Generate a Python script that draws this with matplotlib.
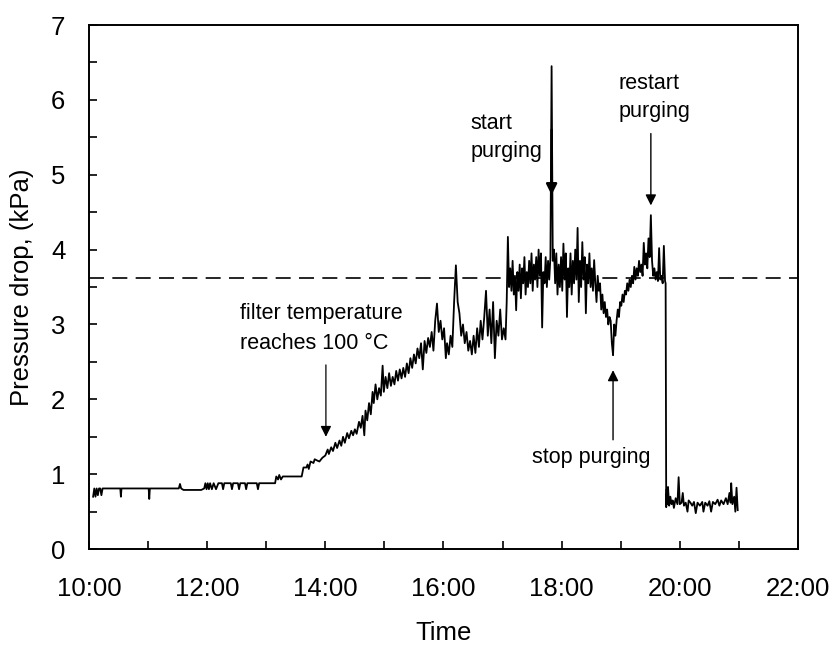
import matplotlib
matplotlib.use("Agg")
import matplotlib.pyplot as plt
from matplotlib.ticker import MultipleLocator, FuncFormatter

plt.rcParams['font.family'] = ['Liberation Sans', 'DejaVu Sans']

# ---- data (time in hours, pressure drop in kPa) ----
t_flat = [10.07, 10.09, 10.11, 10.13, 10.15, 10.17, 10.19, 10.21, 10.23, 10.53, 10.54, 10.55,
          11.01, 11.02, 11.03, 11.52, 11.54, 11.56, 11.60, 11.90, 11.95, 11.97, 11.99, 12.01,
          12.03, 12.05, 12.08, 12.11, 12.15, 12.19, 12.25, 12.27, 12.29, 12.40, 12.42, 12.44,
          12.52, 12.54, 12.56, 12.64, 12.66, 12.68, 12.84, 12.86, 12.88, 13.15, 13.17, 13.20,
          13.22, 13.25, 13.28, 13.60, 13.63, 13.68, 13.70, 13.72, 13.75, 13.80, 13.82, 13.87,
          13.90, 13.95]
p_flat = [0.70, 0.81, 0.70, 0.81, 0.72, 0.81, 0.81, 0.72, 0.81, 0.81, 0.70, 0.81,
          0.81, 0.67, 0.81, 0.81, 0.87, 0.81, 0.79, 0.79, 0.81, 0.88, 0.80, 0.88,
          0.80, 0.88, 0.80, 0.88, 0.80, 0.88, 0.88, 0.80, 0.88, 0.88, 0.80, 0.88,
          0.88, 0.80, 0.88, 0.88, 0.80, 0.88, 0.88, 0.80, 0.88, 0.88, 0.97, 0.93,
          0.99, 0.93, 0.97, 0.97, 1.09, 1.09, 1.13, 1.07, 1.17, 1.15, 1.20, 1.18,
          1.17, 1.22]

t_rise = [14.00, 14.04, 14.06, 14.10, 14.13, 14.17, 14.20, 14.24, 14.27, 14.30, 14.33, 14.37,
          14.40, 14.44, 14.47, 14.50, 14.53, 14.57, 14.60, 14.63, 14.66, 14.68, 14.71, 14.74,
          14.77, 14.80, 14.82, 14.85, 14.88, 14.91, 14.94, 14.97, 14.99, 15.02, 15.05, 15.08,
          15.11, 15.14, 15.17, 15.20, 15.23, 15.26, 15.29, 15.32, 15.35, 15.38, 15.41, 15.44,
          15.47, 15.50, 15.53, 15.56, 15.59, 15.62, 15.65, 15.68, 15.71, 15.74, 15.77, 15.80,
          15.83, 15.86, 15.89, 15.92, 15.95, 15.98, 16.01, 16.04, 16.06, 16.09, 16.12, 16.15,
          16.18, 16.21, 16.24, 16.27, 16.30, 16.33, 16.36, 16.39, 16.42, 16.45, 16.48, 16.51,
          16.54, 16.57, 16.60, 16.63, 16.66, 16.69, 16.72, 16.75, 16.78, 16.81, 16.84, 16.87,
          16.90, 16.93, 16.96, 16.99, 17.02, 17.05, 17.07, 17.09]
p_rise = [1.25, 1.33, 1.27, 1.36, 1.31, 1.42, 1.35, 1.45, 1.38, 1.50, 1.42, 1.55,
          1.48, 1.58, 1.52, 1.60, 1.54, 1.70, 1.62, 1.78, 1.52, 1.85, 1.72, 1.95,
          1.80, 2.10, 1.95, 2.20, 2.00, 2.15, 2.05, 2.45, 2.10, 2.30, 2.15, 2.35,
          2.18, 2.30, 2.20, 2.38, 2.25, 2.40, 2.28, 2.42, 2.30, 2.48, 2.35, 2.55,
          2.42, 2.60, 2.48, 2.68, 2.55, 2.75, 2.40, 2.78, 2.62, 2.82, 2.70, 2.90,
          2.65, 3.05, 3.28, 2.90, 3.05, 2.80, 2.95, 2.55, 2.75, 2.60, 2.85, 2.70,
          3.30, 3.79, 3.30, 3.15, 2.85, 3.00, 2.75, 2.90, 2.65, 2.78, 2.60, 2.85,
          2.62, 2.95, 2.70, 3.05, 2.80, 3.10, 3.45, 2.85, 3.20, 2.75, 3.30, 2.55,
          3.05, 2.85, 3.20, 2.80, 2.95, 2.80, 3.30, 4.17]

t_purge = [17.11, 17.13, 17.15, 17.17, 17.19, 17.21, 17.23, 17.25, 17.27, 17.29, 17.31, 17.33,
           17.35, 17.37, 17.39, 17.41, 17.43, 17.45, 17.47, 17.49, 17.51, 17.53, 17.55, 17.57,
           17.59, 17.61, 17.63, 17.65, 17.67, 17.69, 17.71, 17.73, 17.75, 17.77, 17.79, 17.81,
           17.83, 17.85, 17.87, 17.89, 17.91, 17.93, 17.95, 17.97, 17.99, 18.01, 18.03, 18.05,
           18.07, 18.09, 18.11, 18.13, 18.15, 18.17, 18.19, 18.21, 18.23, 18.25, 18.27, 18.29,
           18.31, 18.33, 18.35, 18.37, 18.39, 18.41, 18.43, 18.45, 18.47, 18.49, 18.51, 18.53,
           18.55, 18.57, 18.59, 18.61, 18.63, 18.65, 18.67, 18.69, 18.71, 18.73, 18.75, 18.77,
           18.79, 18.81, 18.83, 18.85, 18.87, 18.89, 18.91, 18.93, 18.95, 18.97, 18.99, 19.01,
           19.03, 19.05, 19.07, 19.09, 19.11, 19.13, 19.15, 19.17, 19.19, 19.21, 19.23, 19.25,
           19.27, 19.29, 19.31, 19.33, 19.35, 19.37, 19.39, 19.41, 19.43, 19.45, 19.47, 19.49,
           19.51, 19.53, 19.55, 19.57, 19.59, 19.61, 19.63, 19.65, 19.67, 19.69, 19.71, 19.73,
           19.75, 19.76]
p_purge = [3.50, 3.75, 3.45, 3.85, 3.40, 3.65, 3.19, 3.70, 3.45, 3.80, 3.35, 3.75,
           3.55, 3.90, 3.40, 3.70, 3.50, 3.85, 3.55, 3.95, 3.45, 3.80, 3.60, 3.90,
           3.50, 4.00, 3.65, 3.95, 2.96, 3.70, 3.55, 3.90, 3.50, 3.85, 3.60, 3.90,
           6.45, 3.85, 4.00, 3.55, 3.95, 3.40, 3.80, 3.50, 3.90, 3.45, 4.08, 3.60,
           3.95, 3.10, 3.75, 3.50, 3.95, 3.40, 3.85, 3.55, 4.00, 3.60, 4.29, 3.30,
           3.85, 3.50, 4.10, 3.60, 3.90, 3.15, 3.80, 3.55, 3.95, 3.50, 3.75, 3.45,
           3.86, 3.55, 3.30, 3.65, 3.45, 3.55, 3.20, 3.40, 3.15, 3.30, 3.10, 3.20,
           3.00, 3.10, 3.05, 2.75, 2.59, 3.00, 2.85, 3.05, 3.20, 3.10, 3.30, 3.25,
           3.40, 3.30, 3.45, 3.40, 3.55, 3.45, 3.60, 3.50, 3.65, 3.55, 3.77, 3.60,
           3.75, 3.65, 3.85, 3.70, 3.80, 3.65, 4.09, 3.80, 3.95, 3.75, 4.15, 3.90,
           4.46, 3.85, 3.65, 3.75, 3.60, 3.70, 3.58, 4.02, 3.60, 3.65, 3.55, 4.05,
           3.58, 3.55]

t_after = [19.77, 19.78, 19.79, 19.80, 19.82, 19.84, 19.86, 19.88, 19.90, 19.93, 19.96, 19.98,
           20.00, 20.03, 20.05, 20.07, 20.10, 20.13, 20.15, 20.18, 20.21, 20.24, 20.27, 20.30,
           20.34, 20.38, 20.40, 20.43, 20.47, 20.50, 20.53, 20.56, 20.60, 20.64, 20.67, 20.70,
           20.74, 20.78, 20.81, 20.84, 20.86, 20.87, 20.89, 20.92, 20.94, 20.96, 20.98]
p_after = [0.56, 0.80, 0.60, 0.83, 0.58, 0.70, 0.60, 0.65, 0.55, 0.68, 0.60, 0.96,
           0.60, 0.62, 0.75, 0.58, 0.62, 0.50, 0.65, 0.62, 0.58, 0.63, 0.48, 0.62,
           0.58, 0.63, 0.50, 0.62, 0.58, 0.64, 0.50, 0.63, 0.60, 0.66, 0.58, 0.65,
           0.60, 0.68, 0.60, 0.75, 0.62, 0.88, 0.60, 0.70, 0.50, 0.82, 0.52]

threshold = 3.62

time = t_flat + t_rise + t_purge + t_after
pressure = p_flat + p_rise + p_purge + p_after

# annotations: (text, text_x, text_y, arrow_x, arrow_from, arrow_to)
annotations = [
    ("filter temperature\nreaches 100 °C", 12.55, 2.95, 14.01, 2.46, 1.50),
    ("start\npurging", 16.45, 5.50, 17.83, 5.60, 4.73),
    ("restart\npurging", 18.97, 6.03, 19.51, 5.55, 4.59),
    ("stop purging", 17.50, 1.23, 18.87, 1.46, 2.39),
]
arrow_widths = [0.9, 1.8, 1.0, 1.0]
line_spacings = [1.55, 1.45, 1.45, 1.2]

fig = plt.figure(figsize=(8.34, 6.46), dpi=100)
ax = fig.add_axes([0.1067, 0.150, 0.8501, 0.8113])

ax.plot(time, pressure, color='black', lw=1.3)
ax.axhline(threshold, color='black', lw=1.2, dashes=(9, 5))

for (txt, tx, ty, ax_x, a_from, a_to), aw, ls in zip(annotations, arrow_widths, line_spacings):
    ax.text(tx, ty, txt, fontsize=15.5, ha='left', va='center', linespacing=ls)
    ax.annotate('', xy=(ax_x, a_to), xytext=(ax_x, a_from),
                arrowprops=dict(arrowstyle='-|>', color='black', lw=aw,
                                mutation_scale=16, shrinkA=0, shrinkB=0))

ax.set_xlim(10, 22)
ax.set_ylim(0, 7)
ax.xaxis.set_major_locator(MultipleLocator(2))
ax.xaxis.set_minor_locator(MultipleLocator(1))
ax.yaxis.set_major_locator(MultipleLocator(1))
ax.yaxis.set_minor_locator(MultipleLocator(0.5))
ax.xaxis.set_major_formatter(FuncFormatter(lambda v, p: f"{int(round(v))}:00"))

ax.tick_params(which='both', direction='in', length=6, width=1.2)
ax.tick_params(axis='x', which='major', pad=20, labelsize=18.5)
ax.tick_params(axis='y', which='major', pad=17, labelsize=18.5)
for s in ax.spines.values():
    s.set_linewidth(1.4)

ax.set_xlabel("Time", fontsize=18.5, labelpad=14.5)
ax.set_ylabel("Pressure drop, (kPa)", fontsize=18.5, labelpad=12)

fig.savefig("out.png", dpi=100)
